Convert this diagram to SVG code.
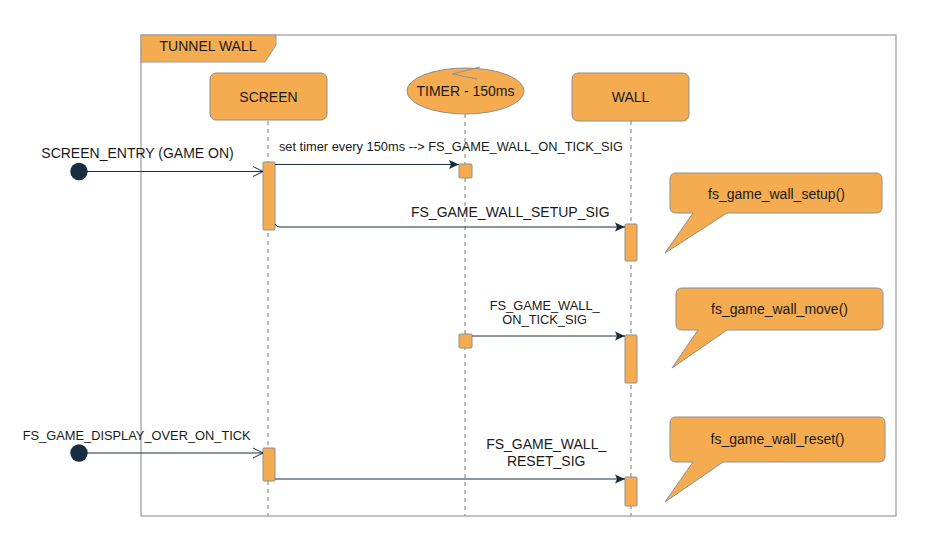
<svg xmlns="http://www.w3.org/2000/svg" width="952" height="555" viewBox="0 0 952 555">
<defs>
<style>
text{font-family:"Liberation Sans",Arial,sans-serif;font-size:14px;fill:#1a1a1a}
.sm{font-size:12.83px}
.mid{text-anchor:middle}
.box{fill:#F5AB50;stroke:#8f8f8f;stroke-width:1}
.bar{fill:#F5AB50;stroke:#8f8f8f;stroke-width:1}
.life{stroke:#9a9a9a;stroke-width:1.3;stroke-dasharray:4 4;fill:none}
.msg{stroke:#182E3E;stroke-width:1;fill:none}
.dot{fill:#182E3E}
</style>
<marker id="block" markerUnits="userSpaceOnUse" markerWidth="12" markerHeight="12" viewBox="0 0 12 12" refX="11" refY="6" orient="auto">
<path d="M1,1.5 L11,6 L1,10.5 L3,6 Z" fill="#182E3E"/>
</marker>
<marker id="open" markerUnits="userSpaceOnUse" markerWidth="12" markerHeight="12" viewBox="0 0 12 12" refX="11" refY="6" orient="auto">
<path d="M1,1 L11,6 L1,11" fill="none" stroke="#182E3E" stroke-width="1"/>
</marker>
</defs>
<rect width="952" height="555" fill="#ffffff"/>

<g id="frame">
<rect x="141" y="35" width="755" height="481" fill="none" stroke="#9a9a9a" stroke-width="1.2"/>
<path d="M141,35 L276,35 L276,45 L265,62 L141,62 Z" fill="#F5AB50" stroke="#9a9a9a" stroke-width="1"/>
<text x="208" y="51" class="mid">TUNNEL WALL</text>
</g>

<g id="lifelines">
<line class="life" x1="268" y1="121" x2="268" y2="516"/>
<line class="life" x1="465" y1="114" x2="465" y2="516"/>
<line class="life" x1="631" y1="121" x2="631" y2="516"/>
</g>

<g id="screen">
<rect class="box" x="210" y="73" width="117" height="47" rx="6"/>
<text x="268.5" y="102" class="mid">SCREEN</text>
</g>

<g id="timer">
<ellipse class="box" cx="465.5" cy="91" rx="58.5" ry="23"/>
<polyline points="480,67 452,74 477,79" fill="none" stroke="#8f8f8f" stroke-width="1"/>
<text x="465.5" y="96" class="mid">TIMER - 150ms</text>
</g>

<g id="wall">
<rect class="box" x="572" y="73" width="117" height="48" rx="6"/>
<text x="630.5" y="102" class="mid">WALL</text>
</g>

<g id="activations">
<rect class="bar" x="263" y="162" width="12" height="68" rx="1"/>
<rect class="bar" x="459" y="164" width="13" height="14" rx="1"/>
<rect class="bar" x="625" y="224" width="12" height="37" rx="1"/>
<rect class="bar" x="459" y="334" width="13" height="14" rx="1"/>
<rect class="bar" x="625" y="335" width="12" height="48" rx="1"/>
<rect class="bar" x="263" y="448" width="12" height="33" rx="1"/>
<rect class="bar" x="625" y="477" width="12" height="29" rx="1"/>
</g>

<g id="start1">
<circle class="dot" cx="79" cy="171.5" r="8.7"/>
<text x="137.5" y="158" class="mid">SCREEN_ENTRY (GAME ON)</text>
</g>
<g id="start2">
<circle class="dot" cx="79" cy="453" r="8.7"/>
<text x="136.7" y="440" class="mid sm">FS_GAME_DISPLAY_OVER_ON_TICK</text>
</g>

<g id="connectors">
<line class="msg" x1="87" y1="171.5" x2="263" y2="171.5" marker-end="url(#open)"/>
<line class="msg" x1="275" y1="164.5" x2="459" y2="164.5" marker-end="url(#block)"/>
<text x="451" y="151" class="mid sm">set timer every 150ms --&gt; FS_GAME_WALL_ON_TICK_SIG</text>
<path class="msg" d="M275,224 Q276,227 280,227 L625,227" marker-end="url(#block)"/>
<text x="510.3" y="217" class="mid">FS_GAME_WALL_SETUP_SIG</text>
<line class="msg" x1="472" y1="336" x2="625" y2="336" marker-end="url(#block)"/>
<text x="544.7" y="309.5" class="mid sm">FS_GAME_WALL_</text>
<text x="544.7" y="323.5" class="mid sm">ON_TICK_SIG</text>
<line class="msg" x1="87" y1="453" x2="263" y2="453" marker-end="url(#open)"/>
<line class="msg" x1="275" y1="479" x2="625" y2="479" marker-end="url(#block)"/>
<text x="546.2" y="449" class="mid">FS_GAME_WALL_</text>
<text x="546.2" y="466" class="mid">RESET_SIG</text>
</g>

<g id="note-setup">
<path class="box" d="M676,173 L876,173 Q882,173 882,179 L882,207 Q882,213 876,213 L727,213 L665,253 L693,213 L676,213 Q670,213 670,207 L670,179 Q670,173 676,173 Z"/>
<text x="776.5" y="198.5" class="mid">fs_game_wall_setup()</text>
</g>
<g id="note-move">
<path class="box" d="M682,288 L877,288 Q883,288 883,294 L883,324 Q883,330 877,330 L727,330 L672,368 L698,330 L682,330 Q676,330 676,324 L676,294 Q676,288 682,288 Z"/>
<text x="779.5" y="313.5" class="mid">fs_game_wall_move()</text>
</g>
<g id="note-reset">
<path class="box" d="M676,417 L879,417 Q885,417 885,423 L885,456 Q885,462 879,462 L723,462 L665,502 L693,462 L676,462 Q670,462 670,456 L670,423 Q670,417 676,417 Z"/>
<text x="777.5" y="444" class="mid">fs_game_wall_reset()</text>
</g>
</svg>
